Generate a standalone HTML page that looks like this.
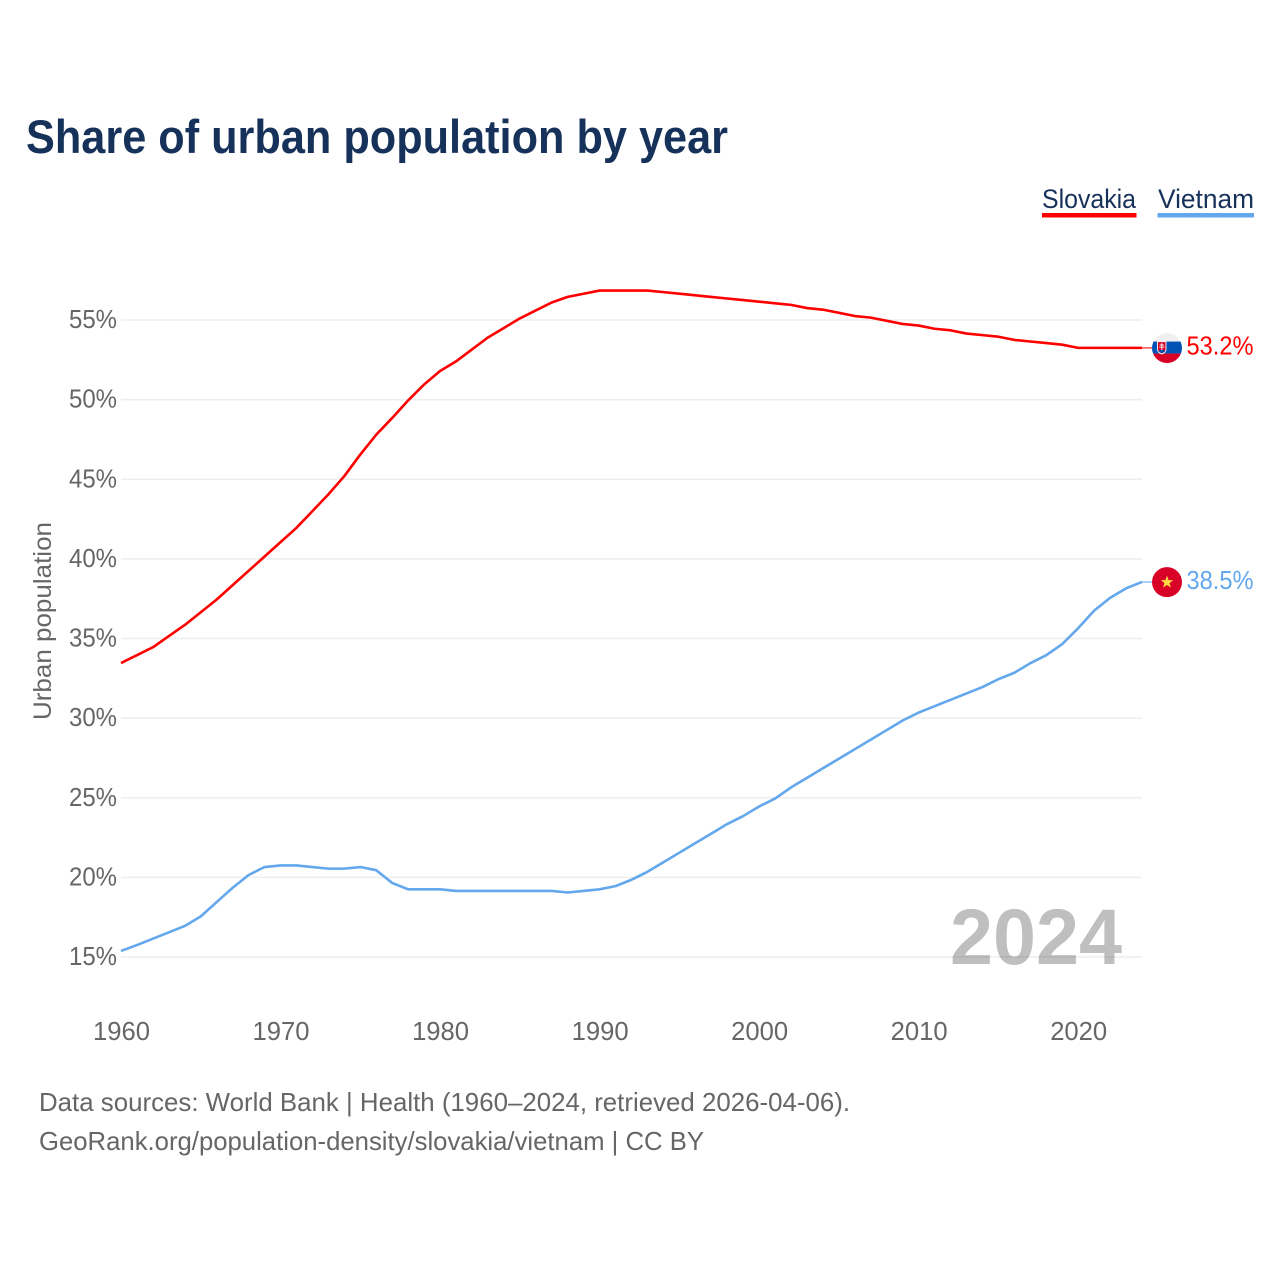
<!DOCTYPE html>
<html lang="en">
<head>
<meta charset="utf-8">
<title>Share of urban population by year</title>
<style>
html,body{margin:0;padding:0;background:#fff;width:1280px;height:1280px;overflow:hidden}
svg{display:block;font-family:"Liberation Sans",sans-serif}
</style>
</head>
<body>
<svg id="chart" width="1280" height="1280" viewBox="0 0 1280 1280" xmlns="http://www.w3.org/2000/svg">
  <defs>
    <clipPath id="flag-clip-sk"><circle cx="0" cy="0" r="15"/></clipPath>
    <clipPath id="flag-clip-vn"><circle cx="0" cy="0" r="15"/></clipPath>
  </defs>
  <rect width="1280" height="1280" fill="#fff"/>
  <text x="26" y="153" font-size="47" font-weight="700" fill="#17325a" textLength="702" lengthAdjust="spacingAndGlyphs">Share of urban population by year</text>

  <g>
    <text x="1042" y="208" font-size="27" fill="#17325a" textLength="94" lengthAdjust="spacingAndGlyphs">Slovakia</text>
    <rect x="1042" y="213" width="94.5" height="4.5" fill="#ff0000"/>
  </g>
  <g>
    <text x="1158" y="208" font-size="27" fill="#17325a" textLength="96" lengthAdjust="spacingAndGlyphs">Vietnam</text>
    <rect x="1157.5" y="213" width="96.5" height="4.5" fill="#63a7ec"/>
  </g>

  <g id="grid"></g>
  <g id="y-axis"></g>
  <g id="x-axis"></g>
  <text transform="translate(51,621) rotate(-90)" text-anchor="middle" font-size="25" fill="#666" textLength="198" lengthAdjust="spacingAndGlyphs">Urban population</text>

  <text x="950" y="964" font-size="79" font-weight="700" fill="#000" fill-opacity="0.25" textLength="172" lengthAdjust="spacingAndGlyphs">2024</text>

  <g id="series"></g>

  <g id="flag-slovakia">
    <g clip-path="url(#flag-clip-sk)">
      <rect x="-15" y="-15" width="30" height="30" fill="#f0f0f0"/>
      <rect x="-15" y="-6.5" width="30" height="12" fill="#0052b4"/>
      <rect x="-15" y="5.5" width="30" height="10" fill="#d80027"/>
      <path d="M-10 -7 H-0.5 V1 Q-0.5 5 -5.2 6.5 Q-10 5 -10 1 Z" fill="#f0f0f0"/>
      <path d="M-9 -6 H-1.5 V1 Q-1.5 4 -5.2 5.3 Q-9 4 -9 1 Z" fill="#d80027"/>
      <path d="M-5.7 -5 H-4.7 V-3.6 H-3 V-2.6 H-4.7 V-1.4 H-2.6 V-0.4 H-4.7 V3 H-5.7 V-0.4 H-7.8 V-1.4 H-5.7 V-2.6 H-7.4 V-3.6 H-5.7 Z" fill="#f0f0f0"/>
      <path d="M-9 3 Q-5.2 0.5 -1.5 3 L-5.2 5.3 Z" fill="#0052b4"/>
    </g>
  </g>
  <g id="flag-vietnam">
    <circle cx="0" cy="0" r="15" fill="#d80027"/>
    <path d="M0 -6.5 L1.6 -2 L6.2 -2 L2.5 0.9 L3.9 5.5 L0 2.8 L-3.9 5.5 L-2.5 0.9 L-6.2 -2 L-1.6 -2 Z" fill="#ffda44"/>
  </g>

  <text x="39" y="1111" font-size="26" fill="#666" textLength="811" lengthAdjust="spacingAndGlyphs">Data sources: World Bank | Health (1960–2024, retrieved 2026-04-06).</text>
  <text x="39" y="1150" font-size="26" fill="#666" textLength="665" lengthAdjust="spacingAndGlyphs">GeoRank.org/population-density/slovakia/vietnam | CC BY</text>

<script>
const startYear = 1960;
const endYear = 2024;
const yTickValues = [15, 20, 25, 30, 35, 40, 45, 50, 55];
const xTickValues = [1960, 1970, 1980, 1990, 2000, 2010, 2020];
const endLabels = ["53.2%", "38.5%"];
const slovakiaValues = [
  33.46,33.95,34.45,35.15,35.85,36.65,37.45,38.35,39.25,40.15,
  41.05,41.95,43.0,44.05,45.2,46.55,47.8,48.85,49.95,50.95,
  51.8,52.4,53.15,53.9,54.5,55.1,55.6,56.1,56.45,56.65,
  56.85,56.85,56.85,56.85,56.75,56.65,56.55,56.45,56.35,56.25,
  56.15,56.05,55.95,55.75,55.65,55.45,55.25,55.15,54.95,54.75,
  54.65,54.45,54.35,54.15,54.05,53.95,53.75,53.65,53.55,53.45,
  53.25,53.25,53.25,53.25,53.25
];
const vietnamValues = [
  15.38,15.75,16.15,16.55,16.95,17.55,18.45,19.35,20.15,20.65,
  20.75,20.75,20.65,20.55,20.55,20.65,20.45,19.65,19.25,19.25,
  19.25,19.15,19.15,19.15,19.15,19.15,19.15,19.15,19.05,19.15,
  19.25,19.45,19.85,20.35,20.95,21.55,22.15,22.75,23.35,23.85,
  24.45,24.95,25.65,26.25,26.85,27.45,28.05,28.65,29.25,29.85,
  30.35,30.75,31.15,31.55,31.95,32.45,32.85,33.45,33.95,34.65,
  35.65,36.75,37.55,38.15,38.55
];

const NS = "http://www.w3.org/2000/svg";
const plotLeft = 121, plotRight = 1142;
function xScale(year) {
  return plotLeft + (year - startYear) / (endYear - startYear) * (plotRight - plotLeft);
}
function yScale(value) {
  return 957 - (value - 15) / 40 * 637;
}
function make(tag, parent, attrs) {
  const el = document.createElementNS(NS, tag);
  for (const k in attrs) el.setAttribute(k, attrs[k]);
  parent.appendChild(el);
  return el;
}
const grid = document.getElementById("grid");
const yAxis = document.getElementById("y-axis");
const xAxis = document.getElementById("x-axis");
const series = document.getElementById("series");

yTickValues.forEach(function (v) {
  const line = make("line", grid, {x1: plotLeft, x2: plotRight, y1: yScale(v), y2: yScale(v), stroke: "#eeeeee", "stroke-width": 1.5});
  
  
  const label = make("text", yAxis, {x: 117, y: yScale(v) + 8, "text-anchor": "end", "font-size": 25.5, fill: "#666", textLength: 48, lengthAdjust: "spacingAndGlyphs"});
  label.textContent = v + "%";
  
  
});

xTickValues.forEach(function (yr) {
  const label = make("text", xAxis, {x: xScale(yr) + 0.5, y: 1040, "text-anchor": "middle", "font-size": 25.5, fill: "#666", textLength: 57, lengthAdjust: "spacingAndGlyphs"});
  label.textContent = String(yr);
  
  
});

function drawSeries(values, color, name, labelText, flagId) {
  const pts = values.map(function (v, i) {
    return xScale(startYear + i).toFixed(2) + "," + yScale(v).toFixed(2);
  }).join(" ");
  const line = make("polyline", series, {points: pts, fill: "none", stroke: color, "stroke-width": 2.6, "stroke-linejoin": "round"});
  
  
  const lastY = yScale(values[values.length - 1]);
  const lastX = xScale(startYear + values.length - 1);
  const leader = make("line", series, {x1: lastX, x2: lastX + 10, y1: lastY, y2: lastY, stroke: color, "stroke-width": 1.5, "stroke-opacity": 0.7});
  
  
  document.getElementById(flagId).setAttribute("transform", "translate(1167," + (lastY + 0.2) + ")");
  const label = make("text", series, {x: 1186.5, y: lastY + 6.8, "font-size": 26, fill: color, textLength: 67, lengthAdjust: "spacingAndGlyphs"});
  label.textContent = labelText;
  
  
}
drawSeries(slovakiaValues, "#ff0000", "slovakia", endLabels[0], "flag-slovakia");
drawSeries(vietnamValues, "#63a7ec", "vietnam", endLabels[1], "flag-vietnam");
</script>
</svg>
</body>
</html>
